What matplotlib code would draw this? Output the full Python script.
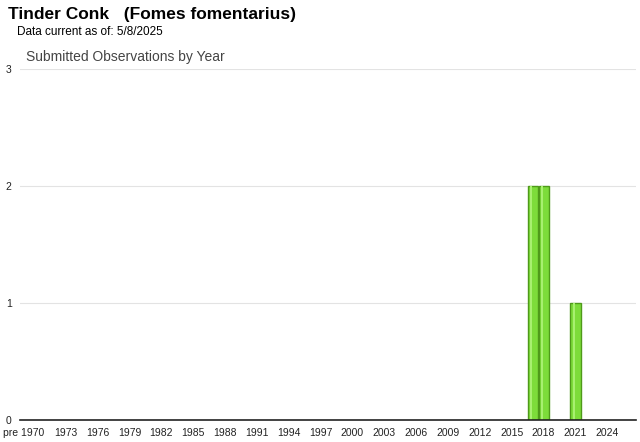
import numpy as np
import matplotlib.pyplot as plt

plt.rcParams['font.family'] = ['Liberation Sans', 'DejaVu Sans']

# observations per year
years = [2017, 2018, 2021]
counts = [2, 2, 1]

tick_years = [1969] + list(range(1973, 2025, 3))
tick_labels = ['pre 1970'] + [str(y) for y in range(1973, 2025, 3)]

fig = plt.figure(figsize=(6.4, 4.42), dpi=100)
ax = fig.add_axes([0.03125, 0.0498, 0.9625, 0.7941])

ax.bar(years, counts, width=0.95, color='#7ddc3a', edgecolor='#4f9a1a', linewidth=1.0, zorder=3)
# light highlight stripe on each bar
ax.bar(np.array(years) - 0.15, counts, width=0.2, color='#a8f070', linewidth=0, zorder=4)

ax.set_xlim(1968.7, 2026.7)
ax.set_ylim(0, 3)
ax.set_yticks([0, 1, 2, 3])
ax.set_xticks(tick_years)
ax.set_xticklabels(tick_labels)
ax.tick_params(axis='both', labelsize=7.5, length=0, colors='#222222')
ax.tick_params(axis='y', pad=6)
ax.tick_params(axis='x', pad=6)
ax.yaxis.grid(True, color='#e3e3e3', linewidth=0.8, zorder=0)
for s in ['top', 'right', 'left']:
    ax.spines[s].set_visible(False)
ax.spines['bottom'].set_color('#222222')
ax.spines['bottom'].set_linewidth(1.2)
ax.spines['bottom'].set_zorder(5)

fig.text(8 / 640, 1 - 15 / 442, 'Tinder Conk   (Fomes fomentarius)', fontsize=12.5,
         fontweight='bold', va='center', ha='left')
fig.text(17 / 640, 1 - 32 / 442, 'Data current as of: 5/8/2025', fontsize=8.5,
         va='center', ha='left')
fig.text(26 / 640, 1 - 57 / 442, 'Submitted Observations by Year', fontsize=10,
         color='#444444', va='center', ha='left')

fig.savefig('out.png', dpi=100)
